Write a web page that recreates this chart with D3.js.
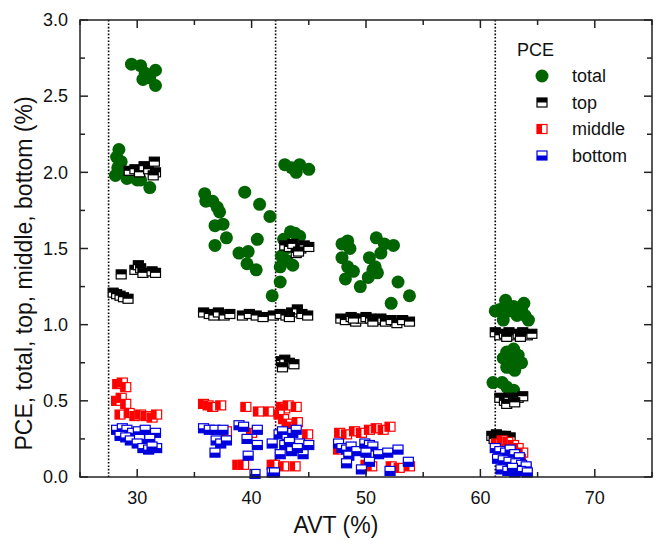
<!DOCTYPE html>
<html><head><meta charset="utf-8">
<script src="https://cdn.jsdelivr.net/npm/d3@7"></script>
<style>body{margin:0;background:#fff}svg text{font-family:Arial,"Liberation Sans",sans-serif;fill:#111}</style>
</head><body><svg id="c" width="662" height="546"></svg>
<script>
// ---- data (AVT %, PCE %) ----
const totalData = [
 [29.5,2.71],[30.3,2.70],[30.7,2.65],[31.6,2.67],[31.1,2.62],[30.5,2.61],[31.6,2.57],
 [28.4,2.15],[28.2,2.10],[28.6,2.07],[28.3,2.03],[28.1,1.98],[28.8,2.00],[29.1,1.96],[29.5,1.97],[30.0,1.95],[30.3,1.95],[31.1,1.90],
 [35.9,1.86],[36.0,1.81],[36.6,1.81],[37.0,1.77],[37.2,1.74],[39.4,1.87],[40.7,1.79],[41.6,1.71],[36.8,1.65],[37.5,1.66],[37.8,1.57],[36.8,1.52],[40.5,1.56],[38.9,1.47],[39.7,1.48],[39.6,1.40],[40.4,1.36],[41.8,1.19],
 [42.9,2.05],[43.5,2.03],[44.2,2.05],[45.0,2.02],[43.9,2.00],[43.4,1.61],[44.2,1.58],[43.8,1.60],[42.8,1.56],[43.0,1.50],[42.6,1.45],[42.5,1.38],[43.6,1.39],[42.5,1.28],[43.1,1.42],[44.0,1.55],
 [47.9,1.53],[48.4,1.55],[48.6,1.50],[47.9,1.44],[48.4,1.38],[48.9,1.35],[48.2,1.30],[49.5,1.25],[50.2,1.31],[50.6,1.36],[51.0,1.34],[50.3,1.44],[50.9,1.57],[51.6,1.53],[52.4,1.52],[51.3,1.47],[52.8,1.28],[53.8,1.19],[52.2,1.14],[50.8,1.38],
 [61.3,1.09],[61.7,1.10],[62.2,1.16],[62.5,1.09],[62.0,1.03],[63.2,1.06],[63.6,1.10],[63.8,1.14],[63.9,1.06],[64.2,1.03],[62.9,1.12],
 [62.3,0.82],[62.9,0.84],[63.3,0.80],[62.0,0.78],[62.6,0.76],[63.6,0.75],[63.0,0.70],[62.3,0.72],[62.7,0.79],
 [61.1,0.62],[61.9,0.62],[62.3,0.59],[62.9,0.57]
];
const topData = [
 [29.3,2.01],[29.8,2.02],[30.2,2.00],[30.6,2.04],[31.0,2.02],[31.5,2.07],[31.6,2.00],[31.4,1.98],
 [28.6,1.33],[29.8,1.36],[30.1,1.39],[30.3,1.37],[30.5,1.34],[31.3,1.35],[31.6,1.34],
 [27.9,1.21],[28.2,1.20],[28.5,1.19],[28.8,1.18],[29.2,1.17],
 [35.8,1.08],[36.3,1.07],[36.7,1.06],[37.1,1.08],[37.6,1.06],[38.1,1.07],[39.2,1.06],[39.8,1.07],[40.4,1.06],[41.0,1.05],[41.9,1.06],[42.5,1.07],[43.0,1.06],[43.5,1.08],[44.0,1.10],[44.4,1.07],[44.9,1.06],[43.3,1.05],
 [42.9,1.52],[43.3,1.51],[43.6,1.53],[43.9,1.47],[44.3,1.50],[44.6,1.52],[45.0,1.51],[44.1,1.48],
 [42.6,0.76],[42.9,0.77],[43.3,0.75],[43.7,0.74],[42.7,0.72],
 [47.8,1.04],[48.2,1.03],[48.7,1.05],[49.1,1.02],[49.6,1.04],[50.0,1.05],[50.4,1.04],[50.9,1.03],[51.3,1.04],[51.7,1.02],[52.2,1.03],[52.7,1.01],[53.2,1.03],[53.8,1.02],[48.9,1.04],[50.6,1.02],
 [61.3,0.95],[61.7,0.93],[62.1,0.94],[62.5,0.95],[62.9,0.93],[63.3,0.94],[63.7,0.95],[64.1,0.93],[64.5,0.94],[62.3,0.92],[63.5,0.92],
 [61.7,0.52],[62.1,0.50],[62.5,0.52],[62.9,0.51],[63.3,0.52],[63.7,0.53],[62.3,0.48],[63.0,0.49],
 [61.0,0.27],[61.4,0.28],[61.8,0.27],[62.2,0.27],[62.6,0.26],[61.2,0.25]
];
const middleData = [
 [28.3,0.61],[28.7,0.62],[29.0,0.59],[28.2,0.50],[28.6,0.52],[29.0,0.48],[28.5,0.41],[29.3,0.42],[29.8,0.40],[30.3,0.41],[30.8,0.40],[31.3,0.39],[31.7,0.41],
 [35.8,0.48],[36.2,0.47],[36.6,0.46],[37.3,0.47],[39.5,0.46],[40.6,0.43],[41.5,0.43],[38.8,0.08],[39.3,0.08],[41.8,0.08],[37.8,0.30],[40.0,0.29],
 [42.6,0.46],[42.9,0.45],[43.2,0.47],[43.9,0.46],[42.4,0.41],[42.8,0.38],[43.1,0.35],[43.5,0.33],[44.0,0.36],[44.9,0.28],[42.0,0.08],[42.8,0.07],[43.8,0.07],
 [47.7,0.29],[48.3,0.28],[49.0,0.30],[49.6,0.29],[50.3,0.31],[50.9,0.32],[51.5,0.31],[52.1,0.33],[47.6,0.18],[50.0,0.08],[50.5,0.07],[52.2,0.07],[52.9,0.06],[53.8,0.07],
 [61.4,0.22],[61.9,0.24],[62.4,0.23],[62.9,0.21],[63.3,0.19],[63.7,0.16],[62.2,0.18],[61.6,0.15],[62.7,0.14],[63.5,0.12],[62.0,0.10],[63.0,0.08],[64.0,0.06]
];
const bottomData = [
 [28.2,0.31],[28.7,0.32],[29.1,0.31],[29.6,0.29],[30.1,0.30],[30.7,0.31],[31.6,0.29],[28.5,0.27],[29.0,0.26],[29.4,0.24],[30.2,0.25],[30.0,0.22],[31.1,0.25],[30.5,0.19],[31.0,0.18],[31.7,0.19],[31.3,0.20],
 [35.8,0.32],[36.3,0.31],[36.8,0.31],[37.5,0.31],[36.9,0.24],[37.3,0.22],[37.8,0.24],[36.8,0.16],[38.9,0.34],[39.3,0.33],[39.6,0.25],[40.5,0.31],[40.5,0.21],[39.7,0.14],[40.3,0.02],[41.8,0.22],[41.8,0.03],
 [42.4,0.28],[42.7,0.30],[43.1,0.25],[43.6,0.29],[43.9,0.31],[42.9,0.21],[43.3,0.23],[44.2,0.22],[45.0,0.21],[42.5,0.15],[43.5,0.17],[44.5,0.15],[44.0,0.19],[42.0,0.03],
 [47.6,0.22],[47.9,0.19],[48.3,0.18],[48.7,0.20],[48.5,0.14],[49.2,0.17],[49.9,0.22],[50.3,0.21],[50.6,0.20],[50.0,0.16],[51.1,0.15],[51.9,0.16],[52.8,0.18],[50.3,0.10],[49.6,0.05],[52.1,0.04],[53.7,0.10],[48.3,0.09],
 [61.3,0.19],[61.7,0.17],[62.2,0.16],[62.6,0.18],[63.0,0.15],[63.4,0.13],[61.5,0.12],[62.0,0.11],[62.5,0.10],[63.1,0.09],[63.6,0.08],[64.0,0.07],[61.8,0.05],[62.4,0.04],[63.0,0.03],[63.5,0.04],[64.1,0.03],[62.8,0.06]
];
const dividers = [27.5, 42.1, 61.3];
const xTicks = [30, 40, 50, 60, 70];
const yTicks = [0.0, 0.5, 1.0, 1.5, 2.0, 2.5, 3.0];
const seriesNames = ["total", "top", "middle", "bottom"];
const seriesColors = ["#006400", "#000000", "#ff0000", "#0000dd"];

// ---- layout ----
const svg = d3.select("#c");
const L = 80, R = 652, T = 20, B = 477;
const x = d3.scaleLinear().domain([25, 75]).range([L, R]);
const y = d3.scaleLinear().domain([0, 3]).range([B, T]);
const font = 18;

// dividers
svg.append("g").selectAll("line").data(dividers).join("line")
  .attr("x1", d => x(d)).attr("x2", d => x(d)).attr("y1", T).attr("y2", B)
  .attr("stroke", "#000").attr("stroke-width", 1.6).attr("stroke-dasharray", "1.6,1.8");

// markers
const W = 10, H = 9;
function square(g, color, half) {
  g.append("rect").attr("x", -W/2).attr("y", -H/2).attr("width", W).attr("height", H)
    .attr("fill", "#fff").attr("stroke", color).attr("stroke-width", 1.2);
  let r = g.append("rect").attr("fill", color);
  if (half === "up") r.attr("x", -W/2).attr("y", -H/2).attr("width", W).attr("height", H/2);
  if (half === "down") r.attr("x", -W/2).attr("y", 0).attr("width", W).attr("height", H/2);
  if (half === "left") r.attr("x", -W/2).attr("y", -H/2).attr("width", W/2).attr("height", H);
}
svg.append("g").selectAll("circle").data(totalData).join("circle")
  .attr("cx", d => x(d[0])).attr("cy", d => y(d[1])).attr("r", 6.5).attr("fill", seriesColors[0]);
const halves = ["up", "left", "down"];
[topData, middleData, bottomData].forEach((data, i) => {
  svg.append("g").selectAll("g").data(data).join("g")
    .attr("transform", d => `translate(${x(d[0])},${y(d[1])})`)
    .each(function() { square(d3.select(this), seriesColors[i + 1], halves[i]); });
});

// axes
const frame = svg.append("g");
frame.append("rect").attr("x", L).attr("y", T).attr("width", R - L).attr("height", B - T)
  .attr("fill", "none").attr("stroke", "#222").attr("stroke-width", 1.5);
const xMinor = d3.range(25, 75.01, 5);
const yMinor = d3.range(0, 3.001, 0.25);
xMinor.forEach(v => {
  const major = v % 10 === 0;
  const len = major ? 8 : 5;
  frame.append("line").attr("x1", x(v)).attr("x2", x(v)).attr("y1", B).attr("y2", B - len).attr("stroke", "#222").attr("stroke-width", 1.5);
  frame.append("line").attr("x1", x(v)).attr("x2", x(v)).attr("y1", T).attr("y2", T + len).attr("stroke", "#222").attr("stroke-width", 1.5);
});
yMinor.forEach(v => {
  const major = Math.abs(v * 2 - Math.round(v * 2)) < 1e-6;
  const len = major ? 8 : 5;
  frame.append("line").attr("x1", L).attr("x2", L + len).attr("y1", y(v)).attr("y2", y(v)).attr("stroke", "#222").attr("stroke-width", 1.5);
  frame.append("line").attr("x1", R).attr("x2", R - len).attr("y1", y(v)).attr("y2", y(v)).attr("stroke", "#222").attr("stroke-width", 1.5);
});
svg.append("g").selectAll("text").data(xTicks).join("text")
  .attr("x", d => x(d)).attr("y", 504).attr("text-anchor", "middle").attr("font-size", font).text(d => d);
svg.append("g").selectAll("text").data(yTicks).join("text")
  .attr("x", 68).attr("y", d => y(d)).attr("dy", "0.35em").attr("text-anchor", "end").attr("font-size", font).text(d => d.toFixed(1));

svg.append("text").attr("x", (L + R) / 2 - 30).attr("y", 533).attr("text-anchor", "middle").attr("font-size", 23).text("AVT (%)");
svg.append("text").attr("transform", `translate(32,${(T + B) / 2 + 25}) rotate(-90)`).attr("text-anchor", "middle").attr("font-size", 23)
  .text("PCE, total, top, middle, bottom (%)");

// legend
const lg = svg.append("g");
lg.append("text").attr("x", 517).attr("y", 56).attr("font-size", font).text("PCE");
seriesNames.forEach((n, i) => {
  const cy = 76 + i * 26.5;
  if (i === 0) lg.append("circle").attr("cx", 542).attr("cy", cy).attr("r", 6.5).attr("fill", seriesColors[0]);
  else { const g = lg.append("g").attr("transform", `translate(542,${cy})`); square(g, seriesColors[i], halves[i - 1]); }
  lg.append("text").attr("x", 572).attr("y", cy).attr("dy", "0.35em").attr("font-size", font).text(n);
});
</script></body></html>
